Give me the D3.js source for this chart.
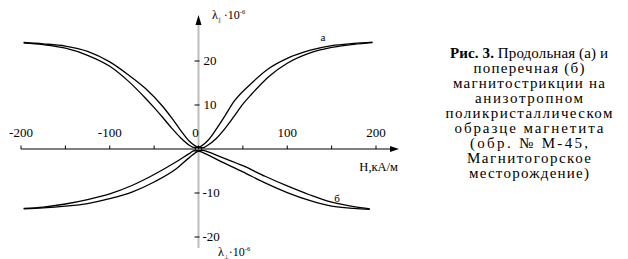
<!DOCTYPE html>
<html><head><meta charset="utf-8">
<script src="https://cdn.jsdelivr.net/npm/d3@7"></script>
<style>
html,body{margin:0;padding:0;background:#fff;}
</style></head>
<body><svg id="c" width="628" height="259"></svg>
<script>
// ---- data ----
const xTicks = [-200,-150,-100,-50,0,50,100,150,200];
const xTickLabels = [-200,-100,0,100,200];
const yTickLabels = [20,10,-10,-20];

// longitudinal (а), two branches
const aH1 = [-197,-175,-150,-125,-100,-80,-60,-50,-40,-30,-20,-10,-5,0,10,20,30,40,60,80,100,125,150,175,196];
const aL1 = [24.1,23.7,22.9,21.3,18.8,15.6,11.6,9.4,7.1,4.7,2.5,0.8,0.35,0.4,1.8,4.5,7.6,10.8,15.0,18.4,20.6,22.4,23.5,24.0,24.3];
const aH2 = [-197,-175,-150,-125,-100,-80,-60,-40,-30,-20,-10,0,5,10,20,30,40,50,60,80,100,125,150,175,196];
const aL2 = [24.2,23.9,23.4,22.2,19.8,17.0,13.8,9.6,7.0,4.2,1.7,0.4,0.3,0.8,2.4,4.7,7.4,10.2,12.5,16.6,19.5,21.8,23.1,23.8,24.2];

// transverse (б), two branches
const bH1 = [-197,-175,-150,-125,-100,-75,-50,-25,-10,-5,0,10,25,50,75,100,125,150,175,193];
const bL1 = [-13.5,-13.2,-12.5,-11.5,-10.2,-8.3,-5.8,-2.9,-1.0,-0.4,-0.5,-1.3,-2.8,-5.2,-7.7,-9.9,-11.7,-13.0,-13.5,-13.7];
const bH2 = [-197,-175,-150,-125,-100,-75,-50,-25,-10,0,5,10,25,50,75,100,125,150,175,193];
const bL2 = [-13.6,-13.4,-13.0,-12.4,-11.3,-9.8,-7.5,-4.5,-1.9,-0.5,-0.3,-0.6,-1.8,-3.8,-6.2,-8.4,-10.4,-12.1,-13.1,-13.6];

const captionLines = ["поперечная (б)","магнитострикции на","анизотропном","поликристаллическом","образце магнетита","(обр. № М-45,","Магнитогорское","месторождение)"];

// ---- drawing ----
const FONT = '"Liberation Serif"';
const svg = d3.select("#c");
const txt = (sel) => sel.append("text").style("font-family", FONT);
const x = d3.scaleLinear().domain([-200,200]).range([21,376]);
const y = d3.scaleLinear().domain([-20,20]).range([237,61]);
const x0 = x(0), y0 = y(0);

// y axis (gray)
svg.append("line").attr("x1",x0).attr("x2",x0).attr("y1",248).attr("y2",24)
  .attr("stroke","#bdbdbd").attr("stroke-width",2);
svg.append("path").attr("d",`M${x0},15 L${x0-3},25 L${x0+3},25 Z`).attr("fill","#000");

// x axis
svg.append("line").attr("x1",x(-200)).attr("x2",393).attr("y1",y0).attr("y2",y0)
  .attr("stroke","#000").attr("stroke-width",1.2);
svg.append("path").attr("d",`M399,${y0} L390,${y0-3} L390,${y0+3} Z`).attr("fill","#000");

// x ticks
svg.selectAll(".xt").data(xTicks).enter().append("line")
  .attr("x1",d=>x(d)).attr("x2",d=>x(d)).attr("y1",y0).attr("y2",y0-3.5)
  .attr("stroke","#000").attr("stroke-width",1);
xTickLabels.forEach(d=>{
  txt(svg).attr("x",x(d)-(d===0?3:0)).attr("y",137).attr("text-anchor","middle")
    .attr("font-size",13).text(d);
});

// y ticks
svg.selectAll(".yt").data(yTickLabels).enter().append("line")
  .attr("x1",x0-4).attr("x2",x0+1).attr("y1",d=>y(d)).attr("y2",d=>y(d))
  .attr("stroke","#000").attr("stroke-width",1);
yTickLabels.forEach(d=>{
  txt(svg).attr("x",d<0?x0+4:x0+5).attr("y",y(d)+4).attr("font-size",13).text(d);
});

// axis labels
const t1 = txt(svg).attr("x",212).attr("y",19).attr("font-size",12);
t1.append("tspan").text("λ");
t1.append("tspan").attr("font-size",6).attr("dy",3).attr("fill","#666").text("∥");
t1.append("tspan").attr("dy",-3).text(" ·10");
t1.append("tspan").attr("font-size",6.5).attr("dy",-5).text("-6");

const t2 = txt(svg).attr("x",218).attr("y",256).attr("font-size",12);
t2.append("tspan").text("λ");
t2.append("tspan").attr("font-size",6).attr("dy",3).text("⊥");
t2.append("tspan").attr("dy",-3).text("·10");
t2.append("tspan").attr("font-size",6.5).attr("dy",-5).text("-6");

txt(svg).attr("x",398).attr("y",171).attr("text-anchor","end")
  .attr("font-size",12.5).text("H,кА/м");

// curves
const line = d3.line().x(d=>x(d[0])).y(d=>y(d[1])).curve(d3.curveMonotoneX);
const series = [[aH1,aL1],[aH2,aL2],[bH1,bL1],[bH2,bL2]];
series.forEach(([h,l])=>{
  svg.append("path").datum(h.map((v,i)=>[v,l[i]])).attr("d",line)
    .attr("fill","none").attr("stroke","#000").attr("stroke-width",1.3);
});
// small ellipse at origin
svg.append("ellipse").attr("cx",x0).attr("cy",y0).attr("rx",3.5).attr("ry",1.8)
  .attr("fill","none").attr("stroke","#000").attr("stroke-width",1);

txt(svg).attr("x",323).attr("y",41).attr("text-anchor","middle").attr("font-size",11).text("а");
txt(svg).attr("x",337).attr("y",202).attr("text-anchor","middle").attr("font-size",11).text("б");

// caption
const cx = 529;
const widths = [111,152,108,167,149,118,124,120];
const c1 = txt(svg).attr("x",cx).attr("y",58).attr("text-anchor","middle")
  .attr("font-size",15).attr("textLength",158).attr("lengthAdjust","spacing");
c1.append("tspan").attr("font-weight","bold").text("Рис. 3.");
c1.append("tspan").text(" Продольная (а) и");
captionLines.forEach((s,i)=>{
  txt(svg).attr("x",cx).attr("y",73+i*15).attr("text-anchor","middle")
    .attr("font-size",15).attr("textLength",widths[i]).attr("lengthAdjust","spacing").text(s);
});
</script></body></html>
